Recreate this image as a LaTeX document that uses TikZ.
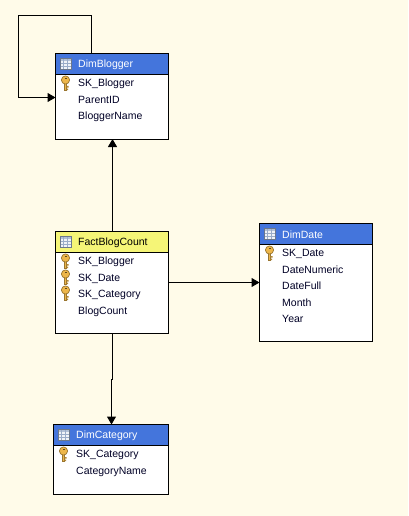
\documentclass[tikz,border=0pt]{standalone}
\usepackage{fontspec}
\setmainfont{Liberation Sans}
\usepackage{xcolor}
\usetikzlibrary{positioning,arrows.meta,calc}
\definecolor{cpaper}{HTML}{FFFBE9}
\definecolor{cdim}{HTML}{4475DC}
\definecolor{cfact}{HTML}{F5F577}
\definecolor{ckey}{HTML}{EDB64A}
\definecolor{cgrid}{HTML}{9AACC8}
\begin{document}
\begin{tikzpicture}[
  x=1pt, y=-1pt,
  tbl/.style={draw=black, line width=1pt, fill=white, anchor=north west, minimum width=113pt, inner sep=0, outer sep=0},
  dimhd/.style={tbl, fill=cdim, minimum height=21pt},
  facthd/.style={dimhd, fill=cfact},
  ttl/.style={font=\fontsize{10.5}{12}\selectfont, text=white, anchor=west, inner sep=0},
  fld/.style={font=\fontsize{10.5}{12}\selectfont, text=black!85!blue, anchor=north west, inner sep=0, minimum height=16pt, text height=8.5pt, text depth=2.5pt},
  rel/.style={draw=black, line width=1pt, -{Triangle[length=8pt,width=9pt]}},
  keyicon/.pic={
    \fill[black!35!ckey] (-1.6,-1) rectangle (1.6,7.8);
    \fill[ckey] (-0.8,-1) rectangle (0.8,7.2);
    \fill[black!25!ckey] (1,3) rectangle (3,4.6) (1,5.6) rectangle (2.6,7.2);
    \fill[ckey, draw=black!35!ckey, line width=0.7pt] (0,-3) circle (4.1);
    \fill[black!60!ckey] (-1,-5.4) rectangle (1,-4.2);
  },
  tblicon/.pic={
    \fill[white!85!cgrid] (0,0) rectangle (11,11);
    \fill[cgrid!75] (0,0) rectangle (11,3);
    \foreach \gx in {3.7,7.3} \draw[cgrid, line width=0.7pt] (\gx,0) -- (\gx,11);
    \foreach \gy in {5.5,8.2} \draw[cgrid, line width=0.7pt] (0,\gy) -- (11,\gy);
    \draw[cgrid!70!black, line width=0.8pt] (0,0) rectangle (11,11);
  },
]
\fill[cpaper] (0,0) rectangle (408,516);
\useasboundingbox (0,0) rectangle (408,516);
% ---------- DimBlogger ----------
\node[tbl, minimum height=85.5pt] (blogger) at (55.5,53.5) {};
\node[dimhd] (bloggerhd) at (55.5,53.5) {};
\pic at (60,58) {tblicon};
\node[ttl] (bloggerttl) at (78,64.6) {DimBlogger};
\pic at (65.5,83) {keyicon};
\node[fld] (b1) at (78,75.6) {SK\_Blogger};
\node[fld, below=0pt of b1.south west, anchor=north west] (b2) {ParentID};
\node[fld, below=0pt of b2.south west, anchor=north west] (b3) {BloggerName};
% ---------- FactBlogCount ----------
\node[tbl, minimum height=101.5pt] (fact) at (55.5,231.5) {};
\node[facthd] (facthead) at (55.5,231.5) {};
\pic at (60,236) {tblicon};
\node[ttl, text=black] (factttl) at (78,242.6) {FactBlogCount};
\pic at (65.5,261) {keyicon};
\pic at (65.5,277) {keyicon};
\pic at (65.5,293) {keyicon};
\node[fld] (f1) at (78,253.6) {SK\_Blogger};
\node[fld, below=0pt of f1.south west, anchor=north west] (f2) {SK\_Date};
\node[fld, below=0pt of f2.south west, anchor=north west] (f3) {SK\_Category};
\node[fld, below=0pt of f3.south west, anchor=north west] (f4) {BlogCount};
% ---------- DimDate ----------
\node[tbl, minimum height=118pt] (date) at (259.5,223.5) {};
\node[dimhd] (datehd) at (259.5,223.5) {};
\pic at (264,228) {tblicon};
\node[ttl] (datettl) at (282,234.6) {DimDate};
\pic at (269.5,253) {keyicon};
\node[fld] (d1) at (282,245.6) {SK\_Date};
\node[fld, below=0pt of d1.south west, anchor=north west] (d2) {DateNumeric};
\node[fld, below=0pt of d2.south west, anchor=north west] (d3) {DateFull};
\node[fld, below=0pt of d3.south west, anchor=north west] (d4) {Month};
\node[fld, below=0pt of d4.south west, anchor=north west] (d5) {Year};
% ---------- DimCategory ----------
\node[tbl, minimum width=115pt, minimum height=70pt] (cat) at (53.5,424.5) {};
\node[dimhd, minimum width=115pt] (cathd) at (53.5,424.5) {};
\pic at (58,429) {tblicon};
\node[ttl] (catttl) at (76,435.6) {DimCategory};
\pic at (63.5,454) {keyicon};
\node[fld] (c1) at (76,446.6) {SK\_Category};
\node[fld, below=0pt of c1.south west, anchor=north west] (c2) {CategoryName};
% ---------- relations ----------
\coordinate (looptop) at (91.5,53.5);
\coordinate (loopin) at (55.5,97.5);
\draw[rel] (looptop) -- (91.5,15.5) -- (18.5,15.5) -- (18.5,97.5) -- (loopin);
\draw[rel] (fact.north -| 112.5,0) -- (blogger.south -| 112.5,0);
\draw[rel] (fact.east |- 0,282.5) -- (date.west |- 0,282.5);
\coordinate (catin) at (111.5,424.5);
\draw[rel] (fact.south -| 112.5,0) -- (112.5,379) -- (111.5,379) -- (catin);
\end{tikzpicture}
\end{document}
